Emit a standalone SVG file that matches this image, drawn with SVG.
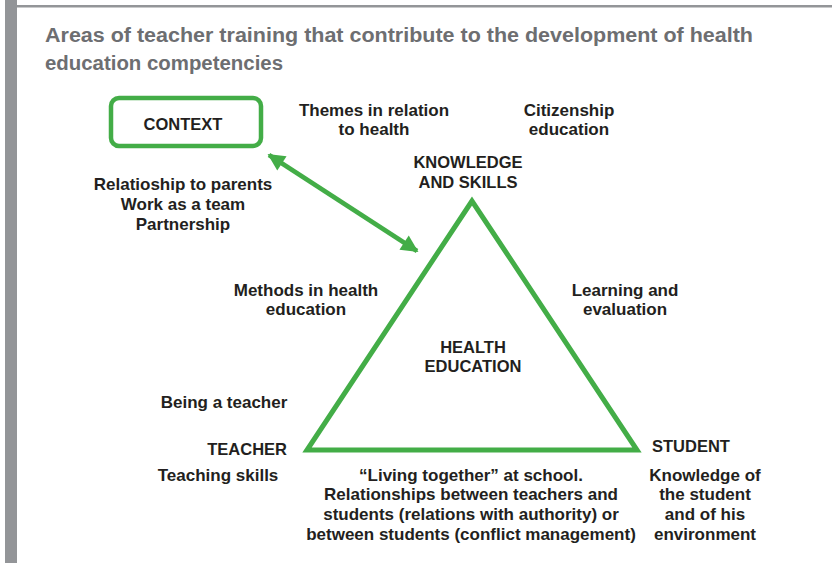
<svg xmlns="http://www.w3.org/2000/svg" width="832" height="563" viewBox="0 0 832 563">
<style>
.t{font-family:"Liberation Sans",Arial,sans-serif;font-weight:bold;font-size:17px;fill:#231f20;text-anchor:middle}
.cap{font-size:16.5px}
.title{font-family:"Liberation Sans",Arial,sans-serif;font-weight:bold;font-size:20px;fill:#6d6e71}
.g{fill:none;stroke:#43ad47}
</style>
<defs>
<marker id="ah" viewBox="0 0 10 10" refX="9" refY="5" markerWidth="4.2" markerHeight="3.8" orient="auto-start-reverse" markerUnits="strokeWidth">
<path d="M0,0 L10,5 L0,10 z" fill="#43ad47"/>
</marker>
</defs>
<rect x="0" y="0" width="832" height="563" fill="#ffffff"/>
<rect x="5" y="0" width="12" height="563" fill="#939598"/>
<rect x="17" y="5" width="815" height="2.5" fill="#939598"/>
<text class="title" x="45" y="42" textLength="708" lengthAdjust="spacingAndGlyphs">Areas of teacher training that contribute to the development of health</text>
<text class="title" x="45" y="70" textLength="238" lengthAdjust="spacingAndGlyphs">education competencies</text>
<g id="connectors">
<line class="g" x1="269" y1="155" x2="417" y2="251" stroke-width="4.5" marker-start="url(#ah)" marker-end="url(#ah)"/>
</g>
<g id="context">
<rect class="g" x="111" y="98" width="150" height="48" rx="8" stroke-width="4.5"/>
<text class="t cap" x="183" y="130">CONTEXT</text>
</g>
<g id="triangle">
<polygon class="g" points="472,201 307,450 637,450" stroke-width="5" stroke-linejoin="miter"/>
<text class="t cap" x="473" y="353">HEALTH</text>
<text class="t cap" x="473" y="372">EDUCATION</text>
</g>
<g id="knowledge">
<text class="t cap" x="468" y="168">KNOWLEDGE</text>
<text class="t cap" x="468" y="188">AND SKILLS</text>
</g>
<g id="teacher">
<text class="t cap" x="287" y="455" style="text-anchor:end">TEACHER</text>
</g>
<g id="student">
<text class="t cap" x="652" y="452" style="text-anchor:start">STUDENT</text>
</g>
<g id="labels">
<text class="t" x="374" y="116">Themes in relation</text>
<text class="t" x="374" y="135">to health</text>
<text class="t" x="569" y="116">Citizenship</text>
<text class="t" x="569" y="135">education</text>
<text class="t" x="183" y="190">Relatioship to parents</text>
<text class="t" x="183" y="210">Work as a team</text>
<text class="t" x="183" y="230">Partnership</text>
<text class="t" x="306" y="296">Methods in health</text>
<text class="t" x="306" y="315">education</text>
<text class="t" x="625" y="296">Learning and</text>
<text class="t" x="625" y="315">evaluation</text>
<text class="t" x="224" y="408">Being a teacher</text>
<text class="t" x="218" y="481">Teaching skills</text>
<text class="t" x="471" y="481">“Living together” at school.</text>
<text class="t" x="471" y="500">Relationships between teachers and</text>
<text class="t" x="471" y="520">students (relations with authority) or</text>
<text class="t" x="471" y="540">between students (conflict management)</text>
<text class="t" x="705" y="481">Knowledge of</text>
<text class="t" x="705" y="500">the student</text>
<text class="t" x="705" y="520">and of his</text>
<text class="t" x="705" y="540">environment</text>
</g>
</svg>
